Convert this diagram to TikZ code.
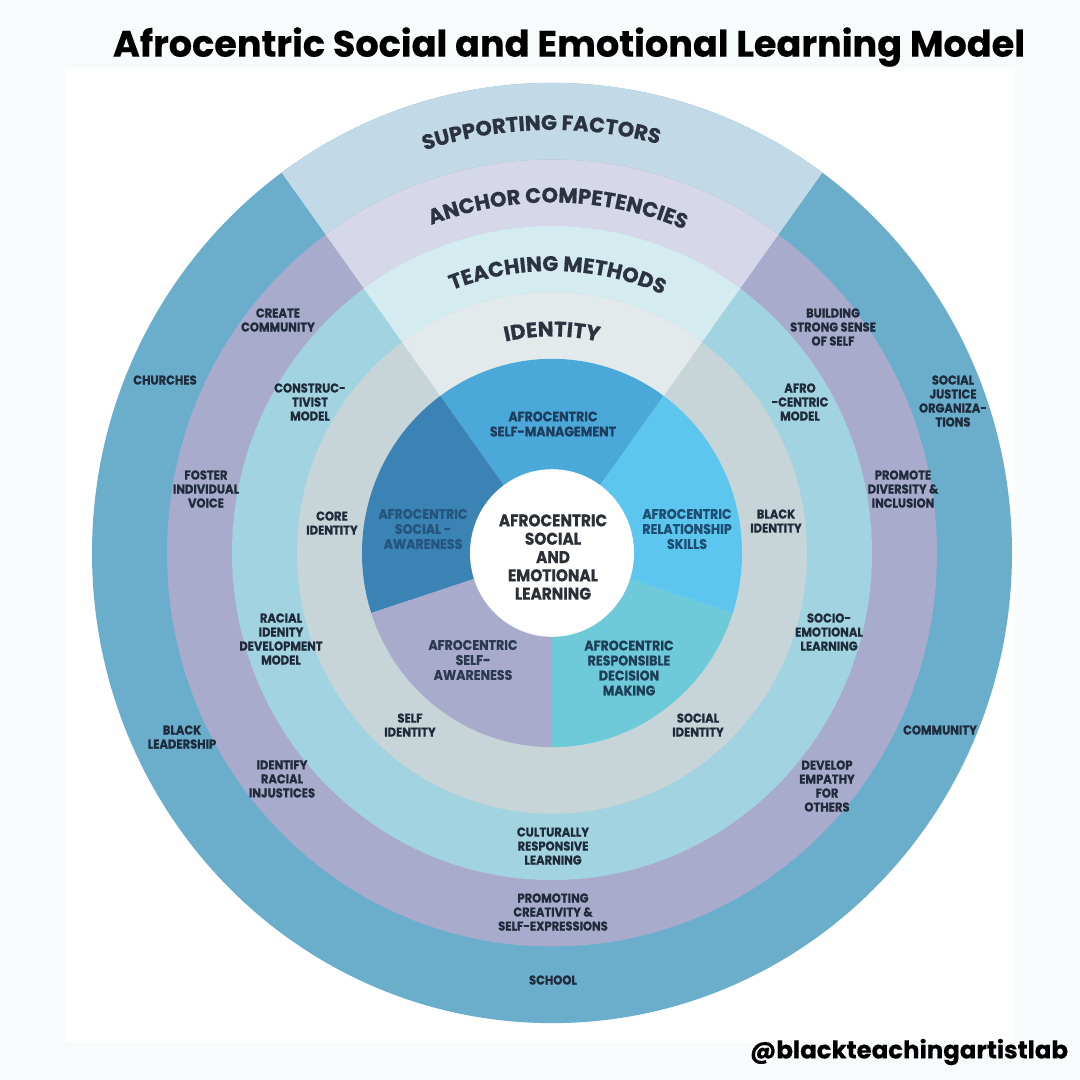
\documentclass[tikz,border=0pt]{standalone}
\usepackage{fontspec}
\usepackage{graphicx}
\setmainfont{Poppins}
\newfontfamily\lblfont[FakeStretch=0.9, FakeBold=0.6]{Poppins}
\newfontfamily\bandfam[FakeBold=0.7]{Poppins}
\newfontfamily\titlefam[FakeBold=0.4]{Poppins}
\usetikzlibrary{decorations.text}
\definecolor{bgout}{HTML}{F7FBFC}
\definecolor{cOuter}{HTML}{6AAECC}
\definecolor{cOuterT}{HTML}{C2D9E8}
\definecolor{cPurple}{HTML}{A9ABCC}
\definecolor{cPurpleT}{HTML}{D6D8EA}
\definecolor{cLight}{HTML}{A2D3E1}
\definecolor{cLightT}{HTML}{D4EBF0}
\definecolor{cGray}{HTML}{C8D5D8}
\definecolor{cGrayT}{HTML}{E3EAEC}
\definecolor{cSM}{HTML}{4AA9D9}
\definecolor{cSA}{HTML}{3B83B5}
\definecolor{cSelfA}{HTML}{A9ABCD}
\definecolor{cRDM}{HTML}{6ECAD8}
\definecolor{cRS}{HTML}{5CC6EE}
\definecolor{cText}{HTML}{1F2B3B}
\definecolor{cBand}{HTML}{2B3341}
\definecolor{tSM}{HTML}{1E3C5C}
\definecolor{tSA}{HTML}{25557B}
\definecolor{tSelfA}{HTML}{2B3A4F}
\definecolor{tRDM}{HTML}{1E3E56}
\definecolor{tRS}{HTML}{1E4F73}
\definecolor{tCenter}{HTML}{2B2F36}
\newcommand{\bandfont}{\bandfam\fontsize{21}{21}\selectfont\bfseries}
\begin{document}
\begin{tikzpicture}[x=1pt,y=1pt,
  lbl/.style={font=\lblfont\bfseries\fontsize{12.8}{14}\selectfont, text=cText, align=center, inner sep=0pt},
  pielbl/.style={font=\lblfont\bfseries\fontsize{14}{15}\selectfont, align=center, inner sep=0pt},
  band/.style={postaction={decorate}, decoration={text along path, text align=center, text color=cBand, text={|\bandfont|#1}}}
]
\useasboundingbox (0,-1080) rectangle (1080,0);
\fill[bgout] (0,-1080) rectangle (1080,0);
\fill[white] (65,-68) rectangle (1015,-1042);

\begin{scope}[shift={(552,-553)}, yscale=1.022]
  \fill[cOuter] (0,0) circle (460);
  \fill[cOuterT] (0,0) -- (54:460) arc[start angle=54, end angle=126, radius=460] -- cycle;
  \fill[cPurple] (0,0) circle (385);
  \fill[cPurpleT] (0,0) -- (54:385) arc[start angle=54, end angle=126, radius=385] -- cycle;
  \fill[cLight] (0,0) circle (320);
  \fill[cLightT] (0,0) -- (54:320) arc[start angle=54, end angle=126, radius=320] -- cycle;
  \fill[cGray] (0,0) circle (255);
  \fill[cGrayT] (0,0) -- (54:255) arc[start angle=54, end angle=126, radius=255] -- cycle;
  \fill[cSM] (0,0) -- (54:190) arc[start angle=54, end angle=126, radius=190] -- cycle;
  \fill[cSA] (0,0) -- (126:190) arc[start angle=126, end angle=198, radius=190] -- cycle;
  \fill[cSelfA] (0,0) -- (198:190) arc[start angle=198, end angle=270, radius=190] -- cycle;
  \fill[cRDM] (0,0) -- (270:190) arc[start angle=270, end angle=342, radius=190] -- cycle;
  \fill[cRS] (0,0) -- (342:190) arc[start angle=342, end angle=414, radius=190] -- cycle;
  \fill[white] (0,0) circle (82);
  % band titles
  \path[band={SUPPORTING FACTORS}] (126.5:414) arc[start angle=126.5, end angle=56.5, radius=414];
  \path[band={ANCHOR COMPETENCIES}] (124:343) arc[start angle=124, end angle=54, radius=343];
  \path[band={TEACHING METHODS}] (123.8:276) arc[start angle=123.8, end angle=53.8, radius=276];
  \path[band={IDENTITY}] (125:212) arc[start angle=125, end angle=55, radius=212];
\end{scope}

% title and handle
\node[inner sep=0pt] (title) at (569,-47) {\resizebox{912pt}{!}{\titlefam\bfseries Afrocentric Social and Emotional Learning Model}};
\node[inner sep=0pt] (handle) at (909,-1052) {\resizebox{318pt}{!}{\titlefam\bfseries @blackteachingartistlab}};

% supporting factors
\node[lbl] (churches) at (165,-380) {CHURCHES};
\node[lbl] (sjo) at (953,-401) {SOCIAL\\JUSTICE\\ORGANIZA-\\TIONS};
\node[lbl] (blead) at (182,-737) {BLACK\\LEADERSHIP};
\node[lbl] (community) at (940,-730) {COMMUNITY};
\node[lbl] (school) at (553,-980) {SCHOOL};
% anchor competencies
\node[lbl] (create) at (278,-320) {CREATE\\COMMUNITY};
\node[lbl] (building) at (833,-327) {BUILDING\\STRONG SENSE\\OF SELF};
\node[lbl] (foster) at (206,-489) {FOSTER\\INDIVIDUAL\\VOICE};
\node[lbl] (promote) at (903,-489) {PROMOTE\\DIVERSITY \&\\INCLUSION};
\node[lbl] (identify) at (282,-779) {IDENTIFY\\RACIAL\\INJUSTICES};
\node[lbl] (develop) at (827,-786) {DEVELOP\\EMPATHY\\FOR\\OTHERS};
\node[lbl] (promoting) at (553,-912) {PROMOTING\\CREATIVITY \&\\SELF-EXPRESSIONS};
% teaching methods
\node[lbl] (construc) at (310,-402) {CONSTRUC-\\TIVIST\\MODEL};
\node[lbl] (afro) at (800,-402) {AFRO\\-CENTRIC\\MODEL};
\node[lbl] (racial) at (281,-639) {RACIAL\\IDENITY\\DEVELOPMENT\\MODEL};
\node[lbl] (socio) at (829,-632) {SOCIO-\\EMOTIONAL\\LEARNING};
\node[lbl] (crl) at (553,-846) {CULTURALLY\\RESPONSIVE\\LEARNING};
% identity
\node[lbl] (core) at (332,-523) {CORE\\IDENTITY};
\node[lbl] (black) at (776,-521) {BLACK\\IDENTITY};
\node[lbl] (self) at (410,-725) {SELF\\IDENTITY};
\node[lbl] (social) at (698,-725) {SOCIAL\\IDENTITY};
% pie
\node[pielbl, text=tSM] (sm) at (553,-424) {AFROCENTRIC\\SELF-MANAGEMENT};
\node[pielbl, text=tSA] (sa) at (423,-529) {AFROCENTRIC\\SOCIAL -\\AWARENESS};
\node[pielbl, text=tRS] (rs) at (687,-529) {AFROCENTRIC\\RELATIONSHIP\\SKILLS};
\node[pielbl, text=tSelfA] (selfa) at (473,-660) {AFROCENTRIC\\SELF-\\AWARENESS};
\node[pielbl, text=tRDM] (rdm) at (629,-668) {AFROCENTRIC\\RESPONSIBLE\\DECISION\\MAKING};
% center
\node[font=\lblfont\bfseries\fontsize{17}{18.3}\selectfont, text=tCenter, align=center, inner sep=0pt] (center) at (553,-557) {AFROCENTRIC\\SOCIAL\\AND\\EMOTIONAL\\LEARNING};
\end{tikzpicture}
\end{document}
